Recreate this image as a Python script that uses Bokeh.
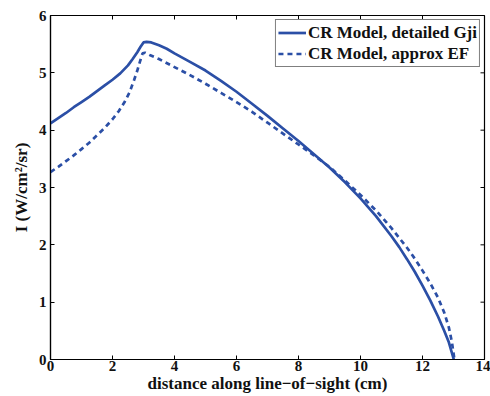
from bokeh.plotting import figure
from bokeh.models import FixedTicker, Range1d, Legend, LegendItem
from bokeh.embed import file_html
from bokeh.resources import INLINE

# Data
x_detailed = [0.0, 0.25, 0.5, 0.75, 1.0, 1.25, 1.5, 1.75, 2.0, 2.25, 2.5, 2.65, 2.8, 2.9, 3.0,
              3.1, 3.25, 3.5, 3.75, 4.0, 4.5, 5.0, 5.5, 6.0, 6.5, 7.0, 7.5, 8.0, 8.5, 9.0,
              9.5, 10.0, 10.5, 11.0, 11.25, 11.5, 11.75, 12.0, 12.25, 12.5, 12.7, 12.85, 13.01]
y_detailed = [4.12, 4.21, 4.30, 4.40, 4.49, 4.58, 4.68, 4.78, 4.88, 4.99, 5.13, 5.24, 5.36, 5.45, 5.53,
              5.54, 5.53, 5.48, 5.42, 5.34, 5.19, 5.04, 4.86, 4.67, 4.46, 4.25, 4.03, 3.81, 3.58, 3.35,
              3.09, 2.81, 2.50, 2.15, 1.96, 1.75, 1.53, 1.29, 1.03, 0.75, 0.50, 0.30, 0.0]

x_approx = [0.0, 0.25, 0.5, 0.75, 1.0, 1.25, 1.5, 1.75, 2.0, 2.2, 2.4, 2.55, 2.7, 2.8, 2.9, 2.97,
            3.05, 3.2, 3.5, 4.0, 4.5, 5.0, 5.5, 6.0, 6.5, 7.0, 7.5, 8.0, 8.5, 9.0, 9.5, 10.0,
            10.5, 11.0, 11.5, 11.75, 12.0, 12.25, 12.5, 12.7, 12.85, 12.95, 13.03]
y_approx = [3.27, 3.36, 3.46, 3.56, 3.67, 3.78, 3.91, 4.04, 4.19, 4.33, 4.50, 4.66, 4.88, 5.04, 5.22, 5.34,
            5.35, 5.31, 5.24, 5.10, 4.96, 4.81, 4.65, 4.49, 4.32, 4.13, 3.94, 3.75, 3.56, 3.36, 3.12, 2.87,
            2.60, 2.29, 1.95, 1.76, 1.55, 1.33, 1.08, 0.82, 0.56, 0.30, 0.0]

x_ticks = [0, 2, 4, 6, 8, 10, 12, 14]
y_ticks = [0, 1, 2, 3, 4, 5, 6]
labels = ["CR Model, detailed Gji", "CR Model, approx EF"]

FONT = "Liberation Serif"
COLOR = "#2B4FA6"
TXT = "#111111"
X_MIN, X_MAX, Y_MIN, Y_MAX = 0, 14, 0, 6

p = figure(width=490, height=396, output_backend="svg", toolbar_location=None,
           x_range=Range1d(X_MIN, X_MAX), y_range=Range1d(Y_MIN, Y_MAX),
           min_border_left=50, min_border_right=6, min_border_top=15, min_border_bottom=37)
p.background_fill_color = "white"
p.border_fill_color = "white"
p.outline_line_color = "black"
p.outline_line_width = 1.2
p.xgrid.visible = False
p.ygrid.visible = False

r1 = p.line(x_detailed, y_detailed, line_color=COLOR, line_width=2.7)
r2 = p.line(x_approx, y_approx, line_color=COLOR, line_width=2.7, line_dash="5 4")

# Inward ticks on the top and right edges (MATLAB box style), placed at tick values
tick_dy = (Y_MAX - Y_MIN) * 4 / 344
tick_dx = (X_MAX - X_MIN) * 4 / 434
p.segment(x0=x_ticks, y0=[Y_MAX] * len(x_ticks), x1=x_ticks, y1=[Y_MAX - tick_dy] * len(x_ticks),
          line_color="black", line_width=1)
p.segment(x0=[X_MAX] * len(y_ticks), y0=y_ticks, x1=[X_MAX - tick_dx] * len(y_ticks), y1=y_ticks,
          line_color="black", line_width=1)

for ax, ticks in ((p.xaxis[0], x_ticks), (p.yaxis[0], y_ticks)):
    ax.ticker = FixedTicker(ticks=ticks)
    ax.major_tick_in = 4
    ax.major_tick_out = 0
    ax.minor_tick_line_color = None
    ax.axis_line_color = "black"
    ax.axis_line_width = 1.2
    ax.major_label_text_font = FONT
    ax.major_label_text_font_style = "bold"
    ax.major_label_text_font_size = "15px"
    ax.major_label_text_color = TXT
    ax.axis_label_text_font = FONT
    ax.axis_label_text_font_style = "bold"
    ax.axis_label_text_font_size = "17px"
    ax.axis_label_text_color = TXT

p.xaxis.axis_label = "distance along line\u2212of\u2212sight (cm)"
p.yaxis.axis_label = "I (W/cm\u00b2/sr)"
p.xaxis.major_label_standoff = 1
p.xaxis.axis_label_standoff = 0
p.yaxis.major_label_standoff = 4
p.yaxis.axis_label_standoff = 5

legend = Legend(items=[LegendItem(label=labels[0], renderers=[r1]),
                       LegendItem(label=labels[1], renderers=[r2])],
                location="top_right")
legend.margin = 4
legend.padding = 2
legend.spacing = 0
legend.glyph_width = 28
legend.glyph_height = 21
legend.label_height = 21
legend.label_standoff = 2
legend.label_text_font = FONT
legend.label_text_font_style = "bold"
legend.label_text_font_size = "17px"
legend.label_text_color = TXT
legend.border_line_color = "black"
legend.border_line_width = 1.2
legend.background_fill_alpha = 1.0
p.add_layout(legend)

open("out.html", "w").write(file_html(p, INLINE))
